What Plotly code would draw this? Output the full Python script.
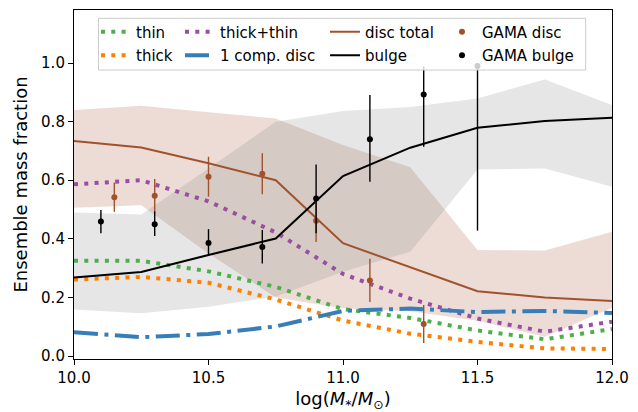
import plotly.graph_objects as go

# ---- data ----
mass = [10.0, 10.25, 10.5, 10.75, 11.0, 11.25, 11.5, 11.75, 12.0]
thin = [0.325, 0.325, 0.289, 0.236, 0.160, 0.130, 0.087, 0.057, 0.092]
thick = [0.261, 0.270, 0.250, 0.193, 0.121, 0.076, 0.048, 0.026, 0.024]
thick_thin = [0.586, 0.600, 0.528, 0.422, 0.280, 0.196, 0.128, 0.083, 0.117]
one_comp = [0.081, 0.064, 0.075, 0.101, 0.154, 0.162, 0.150, 0.154, 0.147]
disc_total = [0.734, 0.712, 0.658, 0.600, 0.385, 0.302, 0.221, 0.200, 0.188]
bulge = [0.268, 0.287, 0.345, 0.401, 0.614, 0.711, 0.779, 0.802, 0.813]

disc_hi = [0.840, 0.854, 0.832, 0.811, 0.720, 0.644, 0.362, 0.360, 0.424]
disc_lo = [0.506, 0.515, 0.350, 0.200, 0.163, 0.153, 0.120, 0.066, 0.165]
bulge_hi = [0.490, 0.483, 0.640, 0.800, 0.836, 0.850, 0.879, 0.944, 0.857]
bulge_lo = [0.159, 0.146, 0.168, 0.203, 0.288, 0.356, 0.637, 0.640, 0.578]

gama_disc_x = [10.15, 10.3, 10.5, 10.7, 10.9, 11.1, 11.3]
gama_disc_y = [0.542, 0.547, 0.612, 0.622, 0.462, 0.258, 0.109]
gama_disc_err = [0.050, 0.057, 0.068, 0.070, 0.073, 0.074, 0.065]

gama_bulge_x = [10.1, 10.3, 10.5, 10.7, 10.9, 11.1, 11.3, 11.5]
gama_bulge_y = [0.459, 0.450, 0.386, 0.372, 0.538, 0.740, 0.893, 0.990]
gama_bulge_err_up = [0.039, 0.043, 0.047, 0.058, 0.116, 0.151, 0.095, 0.010]
gama_bulge_err_dn = [0.040, 0.040, 0.039, 0.056, 0.119, 0.145, 0.179, 0.562]

x_ticks = [10.0, 10.5, 11.0, 11.5, 12.0]
y_ticks = [0.0, 0.2, 0.4, 0.6, 0.8, 1.0]

# ---- styles ----
C_THIN = "#4daf4a"
C_THICK = "#ff7f00"
C_TT = "#984ea3"
C_ONE = "#377eb8"
C_DISC = "#a0522d"
C_BULGE = "#000000"
FONT = "DejaVu Sans"
DOT = "4px,6.3px"
DASHDOT = "24px,6.5px,4px,6.5px"

fig = go.Figure()

# bands
fig.add_trace(go.Scatter(x=mass + mass[::-1], y=disc_hi + disc_lo[::-1], fill="toself",
                         fillcolor="rgba(160,82,45,0.2)", line=dict(width=0), mode="lines",
                         showlegend=False, hoverinfo="skip"))
fig.add_trace(go.Scatter(x=mass + mass[::-1], y=bulge_hi + bulge_lo[::-1], fill="toself",
                         fillcolor="rgba(128,128,128,0.2)", line=dict(width=0), mode="lines",
                         showlegend=False, hoverinfo="skip"))

# model lines
def line_trace(y, name, color, width, dash, legend):
    return go.Scatter(x=mass, y=y, mode="lines", name=name, legendgroup=name,
                      line=dict(color=color, width=width, dash=dash), legend=legend)

fig.add_trace(line_trace(thin, "thin", C_THIN, 4, DOT, "legend"))
fig.add_trace(line_trace(thick, "thick", C_THICK, 4, DOT, "legend"))
fig.add_trace(line_trace(thick_thin, "thick+thin", C_TT, 4, DOT, "legend2"))
fig.add_trace(line_trace(one_comp, "1 comp. disc", C_ONE, 4, DASHDOT, "legend2"))
fig.add_trace(line_trace(disc_total, "disc total", C_DISC, 2, "solid", "legend3"))
fig.add_trace(line_trace(bulge, "bulge", C_BULGE, 2, "solid", "legend3"))

# GAMA points
fig.add_trace(go.Scatter(x=gama_disc_x, y=gama_disc_y, mode="markers", name="GAMA disc",
                         legendgroup="gd", marker=dict(color=C_DISC, size=6),
                         error_y=dict(type="data", array=gama_disc_err, color=C_DISC,
                                      thickness=1.4, width=0),
                         legend="legend4"))
fig.add_trace(go.Scatter(x=gama_bulge_x, y=gama_bulge_y, mode="markers", name="GAMA bulge",
                         legendgroup="gb", marker=dict(color=C_BULGE, size=6),
                         error_y=dict(type="data", symmetric=False, array=gama_bulge_err_up,
                                      arrayminus=gama_bulge_err_dn, color=C_BULGE,
                                      thickness=1.4, width=0),
                         legend="legend4"))

# legend frame (semi-transparent box like matplotlib)
L, R, T, B = 74, 612, 10, 359
W, H = R - L, B - T
def px(xp):
    return (xp - L) / W
def py(yp):
    return (B - yp) / H

fig.add_shape(type="rect", xref="paper", yref="paper",
              x0=px(98.5), x1=px(585.7), y0=py(70), y1=py(18.3),
              fillcolor="rgba(255,255,255,0.8)", line=dict(color="#cccccc", width=1),
              layer="above")

leg_common = dict(bgcolor="rgba(0,0,0,0)", borderwidth=0, font=dict(family=FONT, size=15, color="black"),
                  xanchor="left", yanchor="top", orientation="v", tracegroupgap=1,
                  traceorder="grouped", y=py(15.5))
fig.update_layout(
    width=638, height=412,
    margin=dict(l=L, r=638 - R, t=T, b=412 - B, autoexpand=False),
    paper_bgcolor="white", plot_bgcolor="white",
    font=dict(family=FONT, size=15, color="black"),
    legend=dict(**leg_common, x=px(96)),
    legend2=dict(**leg_common, x=px(180)),
    legend3=dict(**leg_common, x=px(325)),
    legend4=dict(**leg_common, x=px(442)),
    xaxis=dict(range=[10.0, 12.0], tickvals=x_ticks, ticktext=[f"{v:.1f}" for v in x_ticks],
               ticks="outside", ticklen=5, tickwidth=1.1, tickcolor="black",
               showline=True, linecolor="black", linewidth=1.1, mirror=True,
               showgrid=False, zeroline=False,
               tickfont=dict(family=FONT, size=15),
               title=dict(text="log(<i>M</i><sub>*</sub>/<i>M</i><sub>⊙</sub>)",
                          font=dict(family=FONT, size=18), standoff=6)),
    yaxis=dict(range=[-0.0102, 1.181], tickvals=y_ticks, ticktext=[f"{v:.1f}" for v in y_ticks],
               ticks="outside", ticklen=5, tickwidth=1.1, tickcolor="black",
               showline=True, linecolor="black", linewidth=1.1, mirror=True,
               showgrid=False, zeroline=False,
               tickfont=dict(family=FONT, size=15),
               title=dict(text="Ensemble mass fraction", font=dict(family=FONT, size=18), standoff=8)),
)

fig.write_html("out.html", config={"displayModeBar": False},
               post_script="document.body.style.margin='0';document.body.style.overflow='hidden';")
